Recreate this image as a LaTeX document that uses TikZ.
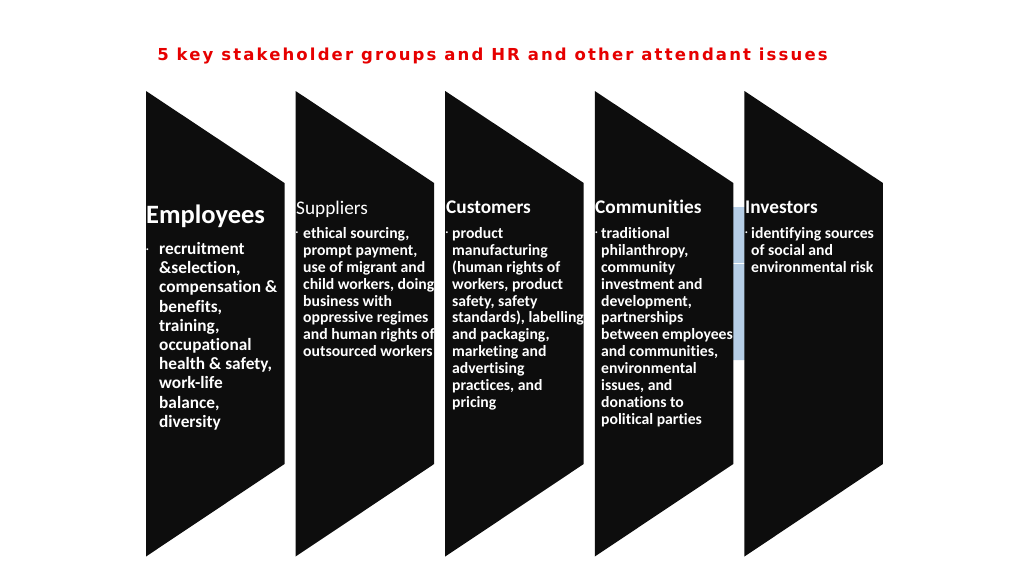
\documentclass[tikz,border=0pt]{standalone}
\usepackage{fontspec}
\setmainfont{Carlito}[Ligatures={NoCommon}]
\newfontfamily\titlefont[LetterSpace=13]{DejaVu Sans}
\definecolor{shapeblack}{RGB}{13,13,13}
\definecolor{titlered}{RGB}{230,0,0}
\definecolor{ghostblue}{RGB}{182,206,230}
\newcommand{\bigstrutx}{\rule{0pt}{14pt}}
\newcommand{\smallstrutx}{\rule{0pt}{13pt}}
\tikzset{
  chev/.style={fill=shapeblack, draw=none},
  headbig/.style={anchor=base west, inner sep=0pt, text=white, font=\fontsize{26.5}{30}\selectfont\bfseries},
  headreg/.style={anchor=base west, inner sep=0pt, text=white, font=\fontsize{19.3}{22}\selectfont},
  headbold/.style={anchor=base west, inner sep=0pt, text=white, font=\fontsize{19.3}{22}\selectfont\bfseries},
  bigtext/.style={anchor=north west, inner sep=0pt, align=left, text=white, font=\fontsize{17.3}{19.2}\selectfont\bfseries},
  smalltext/.style={anchor=north west, inner sep=0pt, align=left, text=white, font=\fontsize{15.7}{16.95}\selectfont\bfseries},
  dot/.style={anchor=base west, inner sep=0pt, text=white, font=\fontsize{10}{10}\selectfont\bfseries},
}
\begin{document}
\begin{tikzpicture}[x=1pt,y=-1pt]
\useasboundingbox (0,0) rectangle (1024,576);
\fill[white] (0,0) rectangle (1024,576);
\node[anchor=base, inner sep=0pt, text=titlered, font=\titlefont\fontsize{16.5}{18}\selectfont\bfseries] (title) at (492.5,60.5) {5 key stakeholder groups and HR and other attendant issues};
% ghost blue shape
\fill[ghostblue, rounded corners=8pt] (722,207) rectangle (752,360);
\draw[white, line width=1pt] (728,263) -- (752,263);
% chevrons
\foreach \i in {0,...,4}{
  \pgfmathsetmacro{\xa}{146+149.6*\i}
  \pgfmathsetmacro{\xb}{\xa+138.5}
  \fill[chev] (\xa,91) -- (\xb,183) -- (\xb,464) -- (\xa,556.5) -- cycle;
}
% Employees
\node[headbig] (h1) at (146,223.5) {Employees};
\node[dot] (d1) at (146,252) {·};
\node[bigtext] (t1) at (159,240.3) {\bigstrutx recruitment\\ \&selection,\\ compensation \&\\ benefits,\\ training,\\ occupational\\ health \& safety,\\ work-life\\ balance,\\ diversity};
% Suppliers
\node[headreg] (h2) at (296,214.5) {Suppliers};
\node[dot] (d2) at (295.5,235.5) {·};
\node[smalltext] (t2) at (303,225) {\smallstrutx ethical sourcing,\\ prompt payment,\\ use of migrant and\\ child workers, doing\\ business with\\ oppressive regimes\\ and human rights of\\ outsourced workers};
% Customers
\node[headbold] (h3) at (446,213.5) {Customers};
\node[dot] (d3) at (445.5,235.5) {·};
\node[smalltext] (t3) at (452,225) {\smallstrutx product\\ manufacturing\\ (human rights of\\ workers, product\\ safety, safety\\ standards), labelling\\ and packaging,\\ marketing and\\ advertising\\ practices, and\\ pricing};
% Communities
\node[headbold] (h4) at (595,213.5) {Communities};
\node[dot] (d4) at (595,235.5) {·};
\node[smalltext] (t4) at (601,225) {\smallstrutx traditional\\ philanthropy,\\ community\\ investment and\\ development,\\ partnerships\\ between employees\\ and communities,\\ environmental\\ issues, and\\ donations to\\ political parties};
% Investors
\node[headbold] (h5) at (745,213.5) {Investors};
\node[dot] (d5) at (745,235.5) {·};
\node[smalltext] (t5) at (751,225) {\smallstrutx identifying sources\\ of social and\\ environmental risk};
\end{tikzpicture}
\end{document}
